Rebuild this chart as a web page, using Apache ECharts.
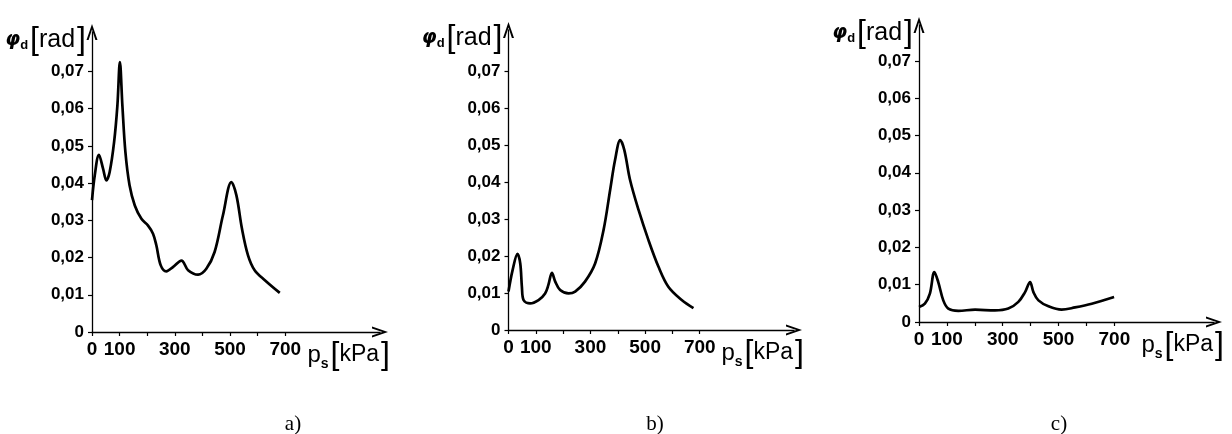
<!DOCTYPE html>
<html>
<head>
<meta charset="utf-8">
<script src="https://cdn.jsdelivr.net/npm/echarts@6/dist/echarts.min.js"></script>
<style>
html,body{margin:0;padding:0;background:#fff;}
#chart{width:1232px;height:434px;}
</style>
</head>
<body>
<div id="chart"></div>
<script>
// ---- data ----
const kpaA = [0,10,25,40,52,64,80,92,101,110,121,136,155,179,203,221,233,249,269,294,324,348,384,414,444,474,505,523,543,565,589,626,680];
const phiA = [0.0354,0.0421,0.0476,0.0439,0.0407,0.0430,0.0510,0.0609,0.0725,0.0609,0.0483,0.0394,0.0340,0.0304,0.0286,0.0264,0.0233,0.0179,0.0163,0.0175,0.0192,0.0166,0.0154,0.0170,0.0215,0.0313,0.0403,0.0367,0.0278,0.0206,0.0166,0.0139,0.0105];

const kpaB = [0,15,33,43,49,55,79,110,134,146,159,171,189,220,244,280,317,348,372,390,409,424,445,476,512,549,585,634,677];
const phiB = [0.0104,0.0162,0.0206,0.0180,0.0117,0.0081,0.0072,0.0081,0.0099,0.0122,0.0155,0.0131,0.0108,0.0099,0.0104,0.0131,0.0180,0.0271,0.0379,0.0460,0.0514,0.0487,0.0406,0.0325,0.0244,0.0171,0.0117,0.0081,0.0059];

const kpaC = [0,21,39,55,69,87,105,141,201,272,320,356,380,398,410,428,464,511,559,619,699];
const phiC = [0.0040,0.0049,0.0076,0.0134,0.0107,0.0058,0.0036,0.0030,0.0033,0.0031,0.0036,0.0054,0.0080,0.0107,0.0080,0.0058,0.0042,0.0033,0.0039,0.0049,0.0067];

const xTickValues = [0,100,200,300,400,500,600,700];
const xLabelValues = [0,100,300,500,700];
const yTickValues = [0,0.01,0.02,0.03,0.04,0.05,0.06,0.07];
const panelLabels = ['a)','b)','c)'];

// ---- layout / style ----
const FONT = "'Liberation Sans',Arial,sans-serif";
const ARROW = 'path://M0,16 L5.5,0 L11,16 L8.9,16 L5.5,5.6 L2.1,16 Z';
const panels = [
  {left:92,  top:32, width:288,   height:300, xmax:1043, ymax:0.0806, lab:288},
  {left:508.5,top:30,width:285.5, height:300, xmax:1045, ymax:0.0812, lab:650},
  {left:919, top:25, width:295,   height:297, xmax:1057, ymax:0.0796, lab:1054}
];
const seriesData = [[kpaA,phiA],[kpaB,phiB],[kpaC,phiC]];

const axisLineBase = {show:true, symbol:['none', ARROW], symbolSize:[11,16], lineStyle:{color:'#000', width:1.3}};

const option = {
  animation:false,
  backgroundColor:'#fff',
  title: panels.map((p,i)=>({
    text: panelLabels[i], left:p.lab, top:409, textAlign:'center',
    textStyle:{fontFamily:"'Liberation Serif','Times New Roman',serif", fontSize:21, fontWeight:'normal', color:'#000'}
  })),
  grid: panels.map(p=>({left:p.left, top:p.top, width:p.width, height:p.height, containLabel:false, outerBoundsMode:'none'})),
  xAxis: panels.map((p,i)=>({
    type:'value', gridIndex:i, min:0, max:p.xmax,
    axisLine: axisLineBase,
    axisTick:{show:true, length:4, customValues:xTickValues, lineStyle:{color:'#000', width:1.2}},
    axisLabel:{customValues:xLabelValues, showMinLabel:true, hideOverlap:false, margin:8, color:'#000', fontFamily:FONT, fontWeight:'bold', fontSize:19},
    splitLine:{show:false},
    name:'{p|p}{s|s}{br|[}{t|kPa}{br|]}',
    nameLocation:'end', nameGap:10, nameMoveOverlap:false,
    nameTextStyle:{align:'right', verticalAlign:'top', padding:[5,0,0,0],
      rich:{
        p:{fontFamily:FONT, fontSize:24, color:'#000', lineHeight:36, verticalAlign:'middle'},
        s:{fontFamily:FONT, fontSize:14, fontWeight:'bold', color:'#000', lineHeight:36, verticalAlign:'bottom', padding:[0,0,2,0]},
        br:{fontFamily:FONT, fontSize:32, color:'#000', lineHeight:36, verticalAlign:'middle', padding:[0,0,0,2]},
        t:{fontFamily:FONT, fontSize:23, color:'#000', lineHeight:36, verticalAlign:'middle'}
      }}
  })),
  yAxis: panels.map((p,i)=>({
    type:'value', gridIndex:i, min:0, max:p.ymax,
    axisLine: axisLineBase,
    axisTick:{show:true, length:4, customValues:yTickValues, lineStyle:{color:'#000', width:1.2}},
    axisLabel:{customValues:yTickValues, showMinLabel:true, hideOverlap:false, margin:8, color:'#000', fontFamily:FONT, fontWeight:'bold', fontSize:17,
      formatter:v=> v===0 ? '0' : v.toFixed(2).replace('.', ',')},
    splitLine:{show:false},
    name:'{phi|φ}{d|d}{br|[}{t|rad}{br|]}',
    nameLocation:'end', nameGap:-8, nameMoveOverlap:false,
    nameTextStyle:{align:'right', verticalAlign:'middle', padding:[0,6,0,0],
      rich:{
        phi:{fontFamily:"'DejaVu Sans',sans-serif", fontStyle:'italic', fontWeight:'bold', fontSize:19, color:'#000', lineHeight:36, verticalAlign:'middle'},
        d:{fontFamily:FONT, fontWeight:'bold', fontSize:13, color:'#000', lineHeight:36, verticalAlign:'bottom', padding:[0,0,6,0]},
        br:{fontFamily:FONT, fontSize:32, color:'#000', lineHeight:36, verticalAlign:'middle', padding:[0,0,0,2]},
        t:{fontFamily:FONT, fontSize:25, color:'#000', lineHeight:36, verticalAlign:'middle'}
      }}
  })),
  series: seriesData.map((d,i)=>({
    type:'line', xAxisIndex:i, yAxisIndex:i,
    data: d[0].map((x,k)=>[x, d[1][k]]),
    showSymbol:false, smooth:0.35,
    lineStyle:{color:'#000', width:2.7}
  }))
};

const chart = echarts.init(document.getElementById('chart'), null, {renderer:'canvas'});
chart.setOption(option);
</script>
</body>
</html>
